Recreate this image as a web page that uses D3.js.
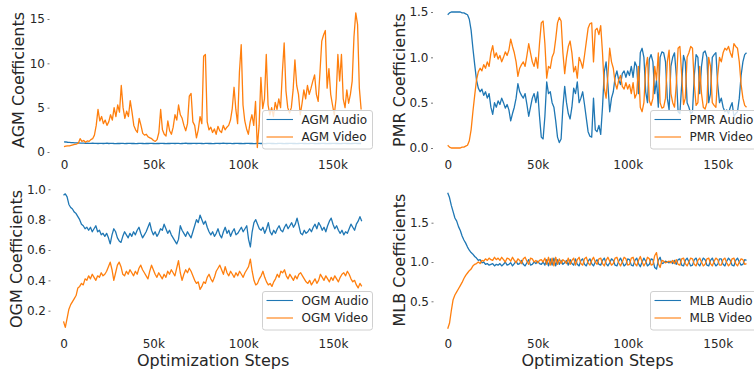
<!DOCTYPE html>
<html>
<head>
<meta charset="utf-8">
<script src="https://cdn.jsdelivr.net/npm/d3@7/dist/d3.min.js"></script>
<style>
  body { margin: 0; background: #fff; }
  svg { display: block; font-family: "DejaVu Sans", sans-serif; }
</style>
</head>
<body>
<svg id="chart" width="754" height="369"></svg>
<script>
// one logged value every 1k optimization steps
const STEP = 1000;
const xTicks = [0, 50000, 100000, 150000];

const agmTicks = [0, 5, 10, 15];
const pmrTicks = [0.0, 0.5, 1.0, 1.5];
const ogmTicks = [0.2, 0.4, 0.6, 0.8, 1.0];
const mlbTicks = [0.5, 1.0, 1.5];

const agmAudio = [
  1.15,1.13,1.1,1.08,1.06,1.05,1.04,1.03,1.02,1.01,1.0,
  0.99,0.98,1.0,0.97,0.98,0.99,0.97,0.98,0.96,0.97,
  0.98,0.96,0.97,0.99,0.96,0.97,0.98,0.96,0.95,0.97,
  0.96,0.98,0.97,0.95,0.96,0.97,0.98,0.96,0.97,0.95,
  0.96,0.98,0.97,0.96,0.95,0.97,0.96,0.98,0.97,0.96,
  0.95,0.97,0.96,0.98,0.97,0.96,0.95,0.97,0.96,0.98,
  0.97,0.96,0.98,0.97,0.95,0.96,0.97,0.99,0.96,0.97,
  0.96,0.98,0.97,0.96,0.98,0.97,0.96,0.95,0.97,0.98,
  0.96,0.97,0.95,0.96,0.98,0.97,0.96,0.97,0.99,0.97,
  0.96,0.98,0.97,0.95,0.96,0.97,0.98,0.96,0.97,0.95,
  0.96,0.97,0.98,0.96,0.97,0.95,0.96,0.98,0.97,0.96,
  0.97,0.95,0.96,0.98,0.97,0.96,0.97,0.95,0.96,0.98,
  0.97,0.96,0.95,0.97,0.96,0.98,0.97,0.96,0.97,0.95,
  0.96,0.97,0.98,0.96,0.97,0.95,0.96,0.98,0.97,0.96,
  0.95,0.97,0.96,0.98,0.97,0.96,0.95,0.97,0.96,0.98,
  0.97,0.96,0.97,0.95,0.96,0.98,0.97,0.96,0.97,0.95,
  0.96,0.97,0.98,0.96,0.97,0.96
];
const agmVideo = [
  0.6,0.65,0.7,0.7,0.75,0.8,0.85,0.9,1.0,1.5,
  1.2,1.3,1.1,1.25,1.2,1.4,1.5,1.9,3.0,4.8,
  3.5,4.0,3.2,3.6,3.0,3.4,4.2,3.6,5.0,4.0,
  5.3,4.5,7.5,5.0,3.8,4.6,4.0,5.8,4.5,3.0,
  2.5,2.2,3.8,3.0,2.1,1.9,2.0,1.7,1.6,1.5,
  1.3,1.2,1.4,2.2,4.8,2.5,2.0,1.8,3.5,2.4,
  2.0,2.8,4.2,3.6,5.3,4.2,3.8,3.0,2.4,3.2,
  6.3,6.6,3.4,3.0,1.6,2.5,4.0,3.2,10.8,11.0,
  3.4,2.5,2.8,2.2,2.6,2.0,2.9,2.4,2.2,3.0,
  2.5,2.8,3.0,3.6,4.9,7.3,4.8,3.2,9.0,12.1,
  5.3,3.5,2.6,2.0,3.4,4.2,3.0,5.7,0.5,3.0,
  8.4,4.9,6.0,11.0,5.3,4.2,5.0,4.0,5.6,4.8,
  6.0,5.0,9.0,12.3,6.9,5.0,4.4,5.0,7.0,10.4,
  7.5,6.5,4.2,5.5,7.0,6.0,7.5,6.5,7.2,8.0,
  8.7,6.5,5.7,9.0,12.5,13.2,13.7,7.2,9.4,6.5,
  5.3,4.2,6.0,11.0,8.0,11.0,6.0,5.0,7.0,5.5,
  6.5,8.0,13.0,15.7,14.4,7.2,4.8
];

const pmrAudio = [
  1.47,1.49,1.5,1.5,1.5,1.5,1.5,1.5,1.49,1.49,
  1.48,1.47,1.42,1.3,1.1,0.92,0.75,0.66,0.62,0.65,
  0.58,0.62,0.55,0.6,0.45,0.37,0.5,0.45,0.52,0.48,
  0.55,0.5,0.44,0.48,0.42,0.3,0.38,0.45,0.55,0.71,
  0.62,0.58,0.55,0.6,0.48,0.35,0.45,0.55,0.6,0.5,
  0.62,0.35,0.12,0.1,0.35,0.73,0.6,0.62,0.5,0.45,
  0.3,0.12,0.06,0.1,0.45,0.68,0.5,0.38,0.32,0.45,
  0.66,0.6,0.73,0.5,0.55,0.62,0.48,0.33,0.18,0.13,
  0.12,0.55,0.2,0.18,0.25,0.15,0.45,0.84,0.95,0.7,
  0.4,0.55,0.62,0.78,0.85,0.75,0.7,0.82,0.85,0.78,
  0.85,0.8,0.9,0.78,0.95,0.9,0.6,1.05,1.1,1.0,
  0.62,0.5,0.98,1.03,0.95,0.6,0.75,0.45,1.0,1.06,
  1.05,0.95,0.55,0.42,0.9,1.0,1.05,0.8,0.4,0.38,
  0.7,1.02,0.95,0.5,0.45,0.38,0.4,0.8,1.03,1.0,
  0.6,0.9,1.05,1.07,1.0,0.5,0.6,1.0,1.03,1.05,
  0.7,0.5,0.55,0.45,0.4,0.42,0.38,0.45,0.5,0.35,
  0.38,0.4,0.55,0.8,0.95,1.03,1.05
];
const pmrVideo = [
  0.03,0.01,0.0,0.0,0.0,0.0,0.0,0.0,0.01,0.01,
  0.02,0.03,0.08,0.2,0.4,0.58,0.75,0.84,0.88,0.85,
  0.92,0.88,0.95,0.9,1.05,1.13,1.0,1.05,0.98,1.02,
  0.95,1.0,1.06,1.02,1.08,1.2,1.12,1.05,0.95,0.79,
  0.88,0.92,0.95,0.9,1.02,1.15,1.05,0.95,0.9,1.0,
  0.88,1.15,1.38,1.4,1.15,0.77,0.9,0.88,1.0,1.05,
  1.2,1.38,1.44,1.4,1.05,0.82,1.0,1.12,1.18,1.05,
  0.84,0.9,0.77,1.0,0.95,0.88,1.02,1.17,1.32,1.37,
  1.38,0.95,1.3,1.32,1.25,1.35,1.05,0.66,0.55,0.8,
  1.1,0.95,0.88,0.72,0.65,0.75,0.8,0.68,0.65,0.72,
  0.65,0.7,0.6,0.72,0.55,0.6,0.9,0.45,0.4,0.5,
  0.88,1.0,0.52,0.47,0.55,0.9,0.75,1.05,0.5,0.44,
  0.45,0.55,0.95,1.08,0.6,0.5,0.45,0.7,1.1,1.12,
  0.8,0.48,0.55,1.0,1.05,1.12,1.1,0.7,0.47,0.5,
  0.9,0.6,0.45,0.43,0.5,1.0,0.9,0.5,0.47,0.45,
  0.8,1.0,0.95,1.05,1.1,1.08,1.12,1.05,1.0,1.15,
  1.12,1.1,0.95,0.7,0.55,0.47,0.45
];

const ogmAudio = [
  0.96,0.97,0.95,0.9,0.88,0.87,0.85,0.84,0.82,0.8,
  0.77,0.76,0.74,0.75,0.73,0.75,0.72,0.74,0.76,0.72,
  0.73,0.7,0.71,0.69,0.71,0.68,0.64,0.7,0.74,0.72,
  0.68,0.66,0.65,0.69,0.72,0.7,0.68,0.71,0.69,0.72,
  0.7,0.73,0.75,0.71,0.68,0.7,0.72,0.75,0.78,0.73,
  0.7,0.72,0.69,0.71,0.74,0.73,0.77,0.74,0.71,0.73,
  0.7,0.68,0.66,0.64,0.67,0.76,0.73,0.71,0.69,0.72,
  0.7,0.68,0.72,0.76,0.8,0.78,0.83,0.8,0.77,0.79,
  0.75,0.72,0.7,0.72,0.69,0.71,0.74,0.7,0.68,0.72,
  0.75,0.71,0.73,0.69,0.72,0.74,0.7,0.71,0.73,0.75,
  0.72,0.74,0.76,0.67,0.62,0.72,0.78,0.8,0.77,0.74,
  0.73,0.75,0.71,0.74,0.78,0.72,0.7,0.73,0.71,0.74,
  0.76,0.73,0.72,0.75,0.77,0.74,0.76,0.78,0.75,0.77,
  0.81,0.76,0.71,0.7,0.73,0.71,0.72,0.74,0.72,0.75,
  0.77,0.74,0.78,0.76,0.73,0.75,0.72,0.76,0.79,0.81,
  0.77,0.74,0.76,0.73,0.71,0.73,0.7,0.72,0.71,0.74,
  0.77,0.75,0.73,0.77,0.79,0.82,0.79
];
const ogmVideo = [
  0.13,0.09,0.15,0.21,0.24,0.26,0.28,0.3,0.35,0.36,
  0.38,0.37,0.41,0.4,0.43,0.41,0.44,0.42,0.4,0.43,
  0.42,0.45,0.43,0.44,0.46,0.49,0.52,0.47,0.4,0.45,
  0.5,0.52,0.49,0.44,0.43,0.46,0.44,0.47,0.45,0.43,
  0.46,0.44,0.48,0.5,0.47,0.45,0.43,0.41,0.46,0.5,
  0.47,0.44,0.42,0.45,0.43,0.41,0.44,0.42,0.46,0.44,
  0.47,0.45,0.43,0.48,0.53,0.45,0.4,0.44,0.47,0.45,
  0.48,0.46,0.43,0.4,0.38,0.39,0.34,0.36,0.39,0.38,
  0.42,0.44,0.41,0.39,0.42,0.46,0.48,0.5,0.47,0.44,
  0.49,0.45,0.43,0.46,0.44,0.42,0.45,0.43,0.46,0.44,
  0.42,0.45,0.47,0.49,0.54,0.46,0.4,0.37,0.38,0.41,
  0.43,0.46,0.42,0.39,0.37,0.38,0.36,0.39,0.41,0.44,
  0.42,0.46,0.45,0.47,0.43,0.41,0.44,0.42,0.4,0.43,
  0.41,0.44,0.45,0.43,0.41,0.39,0.38,0.4,0.37,0.39,
  0.41,0.38,0.4,0.44,0.42,0.4,0.43,0.41,0.39,0.42,
  0.4,0.43,0.41,0.39,0.42,0.44,0.45,0.43,0.46,0.44,
  0.41,0.39,0.4,0.37,0.35,0.38,0.36
];

const mlbAudio = [
  1.88,1.82,1.72,1.64,1.56,1.52,1.45,1.4,1.33,1.28,
  1.24,1.19,1.15,1.12,1.1,1.07,1.05,1.02,1.03,0.99,
  1.0,0.97,0.98,0.96,0.97,0.98,0.95,0.97,0.96,0.98,
  0.95,0.97,1.0,0.96,0.97,0.99,0.95,0.98,1.01,0.97,
  0.98,1.02,0.97,0.95,0.99,1.03,0.96,0.97,1.0,0.98,
  1.01,0.98,0.97,1.0,0.96,1.03,0.95,1.04,0.96,1.05,
  0.95,1.03,0.97,1.02,0.97,0.99,1.02,0.96,1.03,0.98,
  0.96,1.04,0.97,0.95,1.02,1.04,0.97,0.95,1.01,1.04,
  0.98,0.95,1.0,1.03,0.97,0.96,1.02,1.05,0.98,0.95,
  0.99,1.04,1.02,0.96,0.95,1.01,1.05,1.0,0.95,0.97,
  1.04,1.03,0.96,0.95,1.02,1.05,0.98,0.94,1.0,1.05,
  1.01,0.95,0.97,1.04,1.03,0.93,0.91,1.02,1.06,0.98,
  0.99,1.01,1.0,0.99,1.01,0.98,1.02,0.97,1.03,1.04,
  0.96,0.95,1.02,1.05,1.0,0.95,0.96,1.03,1.05,0.98,
  0.95,1.0,1.05,1.03,0.96,0.95,1.02,1.05,0.99,0.95,
  0.97,1.04,1.04,0.97,0.95,1.01,1.05,1.02,0.96,0.95,
  1.02,1.05,1.0,0.96,0.97,1.03,1.02
];
const mlbVideo = [
  0.15,0.22,0.38,0.52,0.58,0.62,0.66,0.7,0.74,0.79,
  0.83,0.86,0.89,0.91,0.95,0.97,0.98,1.0,0.98,1.02,
  1.01,1.04,1.02,1.05,1.03,1.02,1.06,1.03,1.05,1.02,
  1.06,1.03,1.0,1.05,1.04,1.01,1.06,1.02,0.99,1.04,
  1.02,0.98,1.04,1.06,1.01,0.97,1.05,1.04,1.0,1.02,
  0.99,1.02,1.03,1.0,1.05,0.97,1.06,0.96,1.05,0.95,
  1.06,0.97,1.04,0.98,1.03,1.01,0.98,1.05,0.97,1.02,
  1.05,0.96,1.03,1.06,0.98,0.96,1.04,1.06,0.99,0.96,
  1.02,1.06,1.0,0.97,1.04,1.05,0.98,0.95,1.02,1.06,
  1.01,0.96,0.98,1.05,1.06,0.99,0.95,1.0,1.06,1.04,
  0.96,0.97,1.05,1.06,0.98,0.95,1.02,1.07,1.0,0.95,
  0.99,1.06,1.04,0.96,0.97,1.08,1.12,0.98,0.93,1.02,
  1.01,0.99,1.0,1.01,0.99,1.02,0.98,1.03,0.97,0.96,
  1.04,1.05,0.98,0.95,1.0,1.05,1.04,0.97,0.95,1.02,
  1.05,1.0,0.95,0.97,1.04,1.05,0.98,0.95,1.01,1.05,
  1.03,0.96,0.96,1.03,1.05,0.99,0.95,0.98,1.04,1.05,
  0.98,0.95,1.0,1.04,1.03,0.97,0.98
];

const BLUE = '#1f77b4', ORANGE = '#ff7f0e', INK = '#262626';

// layout of the 2x2 grid (pixel frames of each axes)
const panels = [
  { name: 'AGM', audio: agmAudio, video: agmVideo, ticks: agmTicks, fmt: d3.format('d'),
    xr: [64, 332.5], yd: [0, 15], yr: [152, 19], left: 49.5, labX: 18.5, labY: 80,
    tickY: 157, legX: 262, legY: 110, legW: 110, xLabel: false },
  { name: 'PMR', audio: pmrAudio, video: pmrVideo, ticks: pmrTicks, fmt: d3.format('.1f'),
    xr: [447.7, 717.7], yd: [0, 1.5], yr: [148, 12], left: 433, labX: 399, labY: 80,
    tickY: 157, legX: 650, legY: 110, legW: 110, xLabel: false },
  { name: 'OGM', audio: ogmAudio, video: ogmVideo, ticks: ogmTicks, fmt: d3.format('.1f'),
    xr: [63.5, 333], yd: [0.2, 1.0], yr: [310.7, 189.3], left: 50.5, labX: 16.5, labY: 259,
    tickY: 336, legX: 262, legY: 291, legW: 110, xLabel: true },
  { name: 'MLB', audio: mlbAudio, video: mlbVideo, ticks: mlbTicks, fmt: d3.format('.1f'),
    xr: [447.7, 717.7], yd: [0.5, 1.5], yr: [301.3, 222.7], left: 433.5, labX: 399.5, labY: 260,
    tickY: 336, legX: 650, legY: 291, legW: 110, xLabel: true }
];

const svg = d3.select('#chart');
const kFmt = d => d === 0 ? '0' : (d / 1000) + 'k';

panels.forEach(p => {
  const x = d3.scaleLinear().domain([0, 150000]).range(p.xr);
  const y = d3.scaleLinear().domain(p.yd).range(p.yr);
  const g = svg.append('g');

  // y axis: tiny ticks, no spine
  const ya = g.append('g')
    .attr('transform', `translate(${p.left},0)`)
    .call(d3.axisLeft(y).tickValues(p.ticks).tickFormat(p.fmt).tickSize(2).tickPadding(2.5));
  ya.select('.domain').remove();
  ya.selectAll('line').attr('stroke', '#777');
  ya.selectAll('text').attr('fill', INK).style('font-size', '12px').style('font-family', '"DejaVu Sans"');

  // x axis: labels only
  const xa = g.append('g')
    .attr('transform', `translate(0,${p.tickY})`)
    .call(d3.axisBottom(x).tickValues(xTicks).tickFormat(kFmt).tickSize(0).tickPadding(3));
  xa.select('.domain').remove();
  xa.selectAll('text').attr('fill', INK).style('font-size', '12px').style('font-family', '"DejaVu Sans"');

  const line = d3.line()
    .x((d, i) => x(i * STEP))
    .y(d => y(d));

  g.append('path').datum(p.audio)
    .attr('d', line).attr('fill', 'none').attr('stroke', BLUE)
    .attr('stroke-width', 1.3).attr('stroke-linejoin', 'round');
  g.append('path').datum(p.video)
    .attr('d', line).attr('fill', 'none').attr('stroke', ORANGE)
    .attr('stroke-width', 1.3).attr('stroke-linejoin', 'round');

  g.append('text')
    .attr('transform', `translate(${p.labX},${p.labY}) rotate(-90)`)
    .attr('text-anchor', 'middle').attr('dominant-baseline', 'central')
    .attr('fill', INK).style('font-size', '16px')
    .text(`${p.name} Coefficients`);

  if (p.xLabel) {
    g.append('text')
      .attr('x', (p.xr[0] + x(166000)) / 2 + 0.5).attr('y', 360)
      .attr('text-anchor', 'middle').attr('dominant-baseline', 'central')
      .attr('fill', INK).style('font-size', '16px')
      .text('Optimization Steps');
  }

  // legend
  const lg = g.append('g').attr('transform', `translate(${p.legX},${p.legY})`);
  lg.append('rect')
    .attr('x', 0.5).attr('y', 0.5).attr('width', p.legW).attr('height', 38.5).attr('rx', 2.5)
    .attr('fill', 'white').attr('fill-opacity', 0.8)
    .attr('stroke', '#d0d0d0').attr('stroke-width', 1);
  [[`${p.name} Audio`, BLUE], [`${p.name} Video`, ORANGE]].forEach(([t, c], i) => {
    const ry = 9.5 + i * 17.5;
    lg.append('line').attr('x1', 4.5).attr('x2', 31).attr('y1', ry).attr('y2', ry)
      .attr('stroke', c).attr('stroke-width', 1.1);
    lg.append('text').attr('x', 39.5).attr('y', ry)
      .attr('dominant-baseline', 'central').attr('fill', INK)
      .style('font-size', '12px').text(t);
  });
});
</script>
</body>
</html>
